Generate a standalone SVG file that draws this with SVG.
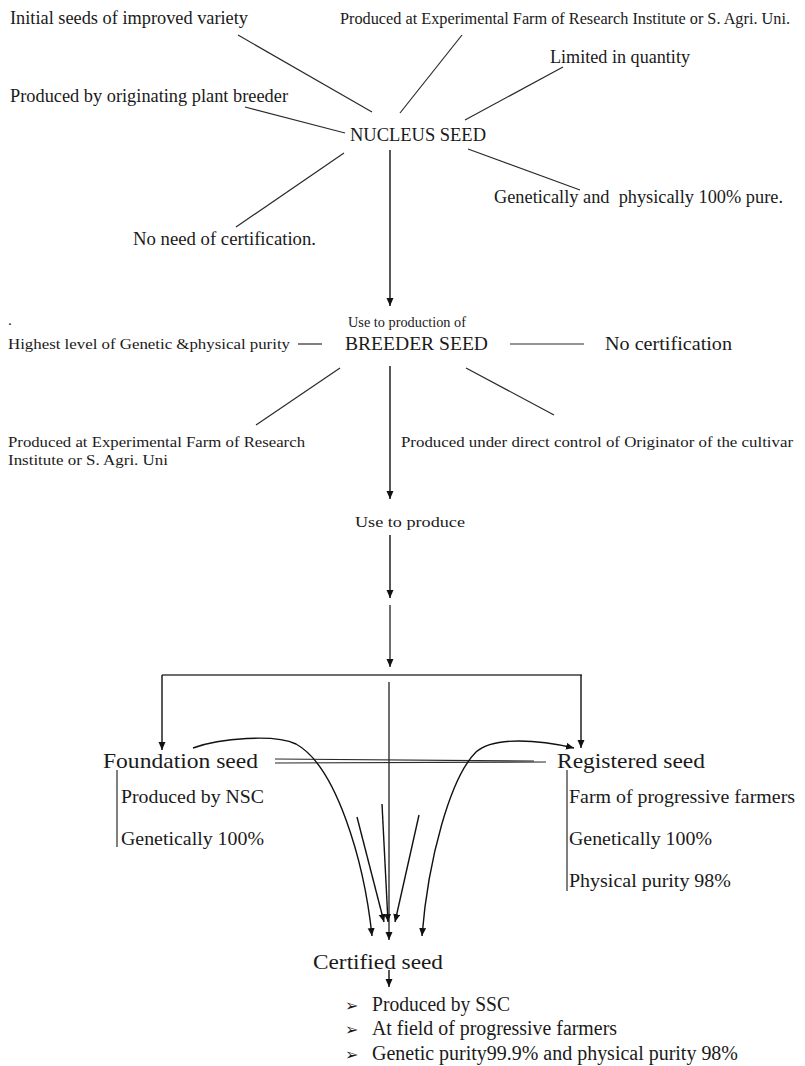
<svg xmlns="http://www.w3.org/2000/svg" width="805" height="1066" viewBox="0 0 805 1066">
<style>
text{font-family:"Liberation Serif","Times New Roman",serif;fill:#1a1a1a}
.s{font-size:18px}
.t{font-size:16.5px}
.xs{font-size:15.5px}
.u{font-size:14px}
.m{font-size:19.5px}
.b{font-size:20px}
.l{font-size:22px}
.bl{font-family:"DejaVu Sans",sans-serif;font-size:16px}
.ln{stroke:#2a2a2a;stroke-width:1.2;fill:none}
.ar{stroke:#111;stroke-width:1.4;fill:none}
.gr{stroke:#6e6e6e;stroke-width:2;fill:none}
</style>
<defs>
<marker id="ah" markerWidth="9" markerHeight="8" refX="8" refY="3.5" orient="auto-start-reverse" markerUnits="userSpaceOnUse">
<path d="M0,0 L8,3.5 L0,7 z" fill="#111"/>
</marker>
</defs>

<g id="connectors">
<line class="ln" x1="238" y1="35" x2="372" y2="112"/>
<line class="ln" x1="245" y1="107" x2="345" y2="133"/>
<line class="ln" x1="462" y1="35" x2="400" y2="113"/>
<line class="ln" x1="563" y1="67" x2="465" y2="120"/>
<line class="ln" x1="468" y1="149" x2="580" y2="190"/>
<line class="ln" x1="344" y1="153" x2="236" y2="227"/>
<line class="ar" x1="390" y1="150" x2="390" y2="306" marker-end="url(#ah)"/>
<line class="ln" x1="298" y1="344" x2="322" y2="344"/>
<line class="ln" x1="510" y1="344" x2="584" y2="344"/>
<line class="ln" x1="340" y1="368" x2="256" y2="425"/>
<line class="ln" x1="466" y1="368" x2="554" y2="415"/>
<line class="ar" x1="390" y1="366" x2="390" y2="499" marker-end="url(#ah)"/>
<line class="ar" x1="390" y1="535" x2="390" y2="598" marker-end="url(#ah)"/>
<line class="gr" x1="390" y1="605" x2="390" y2="667" marker-end="url(#ah)"/>
<line class="gr" x1="162" y1="675" x2="582" y2="675"/>
<line class="ar" x1="162" y1="675" x2="162" y2="750" marker-end="url(#ah)"/>
<line class="ar" x1="581" y1="675" x2="581" y2="748" marker-end="url(#ah)"/>
<line class="gr" x1="389" y1="682" x2="389" y2="940" marker-end="url(#ah)"/>
<line class="ln" x1="275" y1="759" x2="534" y2="761"/>
<line class="ln" x1="275" y1="763" x2="546" y2="762"/>
<path class="ar" d="M193,748 C220,738 275,734 296,744 C336,766 364,860 372,936" marker-end="url(#ah)"/>
<path class="ar" d="M422,936 C428,860 450,778 476,752 C494,736 540,740 574,748" marker-start="url(#ah)" marker-end="url(#ah)"/>
<line class="ar" x1="357" y1="817" x2="384" y2="922" marker-end="url(#ah)"/>
<line class="ar" x1="382" y1="804" x2="388" y2="922" marker-end="url(#ah)"/>
<line class="ar" x1="419" y1="815" x2="395" y2="922" marker-end="url(#ah)"/>
<line class="ln" x1="117" y1="770" x2="117" y2="847"/>
<line class="ln" x1="567" y1="770" x2="567" y2="891"/>
<line class="ar" x1="389" y1="970" x2="389" y2="987" marker-end="url(#ah)"/>
</g>

<g id="nucleus">
<text class="s" x="10" y="24" textLength="238" lengthAdjust="spacingAndGlyphs">Initial seeds of improved variety</text>
<text class="t" x="340" y="24" textLength="450" lengthAdjust="spacingAndGlyphs">Produced at Experimental Farm of Research Institute or S. Agri. Uni.</text>
<text class="s" x="550" y="63" textLength="140" lengthAdjust="spacingAndGlyphs">Limited in quantity</text>
<text class="s" x="10" y="102" textLength="278" lengthAdjust="spacingAndGlyphs">Produced by originating plant breeder</text>
<text class="s" x="350" y="141" textLength="136" lengthAdjust="spacingAndGlyphs">NUCLEUS SEED</text>
<text class="s" x="494" y="203" textLength="289" lengthAdjust="spacingAndGlyphs" xml:space="preserve">Genetically and  physically 100% pure.</text>
<text class="s" x="133" y="245" textLength="183" lengthAdjust="spacingAndGlyphs">No need of certification.</text>
</g>

<g id="breeder">
<text class="xs" x="8" y="325">.</text>
<text class="u" x="348" y="327" textLength="118" lengthAdjust="spacingAndGlyphs">Use to production of</text>
<text class="xs" x="8" y="349" textLength="282" lengthAdjust="spacingAndGlyphs">Highest level of Genetic &amp;physical purity</text>
<text class="m" x="345" y="350" textLength="143" lengthAdjust="spacingAndGlyphs">BREEDER SEED</text>
<text class="m" x="605" y="350" textLength="127" lengthAdjust="spacingAndGlyphs">No certification</text>
<text class="xs" x="8" y="447" textLength="297" lengthAdjust="spacingAndGlyphs">Produced at Experimental Farm of Research</text>
<text class="xs" x="8" y="465" textLength="160" lengthAdjust="spacingAndGlyphs">Institute or S. Agri. Uni</text>
<text class="xs" x="401" y="447" textLength="392" lengthAdjust="spacingAndGlyphs">Produced under direct control of Originator of the cultivar</text>
<text class="xs" x="355" y="527" textLength="110" lengthAdjust="spacingAndGlyphs">Use to produce</text>
</g>

<g id="foundation">
<text class="l" x="103" y="768" textLength="155" lengthAdjust="spacingAndGlyphs">Foundation seed</text>
<text class="s" x="121" y="803" textLength="143" lengthAdjust="spacingAndGlyphs">Produced by NSC</text>
<text class="s" x="121" y="845" textLength="143" lengthAdjust="spacingAndGlyphs">Genetically 100%</text>
</g>

<g id="registered">
<text class="l" x="557" y="768" textLength="148" lengthAdjust="spacingAndGlyphs">Registered seed</text>
<text class="s" x="569" y="803" textLength="226" lengthAdjust="spacingAndGlyphs">Farm of progressive farmers</text>
<text class="s" x="569" y="845" textLength="143" lengthAdjust="spacingAndGlyphs">Genetically 100%</text>
<text class="s" x="569" y="887" textLength="162" lengthAdjust="spacingAndGlyphs">Physical purity 98%</text>
</g>

<g id="certified">
<text class="l" x="313" y="969" textLength="130" lengthAdjust="spacingAndGlyphs">Certified seed</text>
<text class="bl" x="345" y="1011">➢</text>
<text class="b" x="372" y="1011" textLength="138" lengthAdjust="spacingAndGlyphs">Produced by SSC</text>
<text class="bl" x="345" y="1035">➢</text>
<text class="b" x="372" y="1035" textLength="245" lengthAdjust="spacingAndGlyphs">At field of progressive farmers</text>
<text class="bl" x="345" y="1060">➢</text>
<text class="b" x="372" y="1060" textLength="366" lengthAdjust="spacingAndGlyphs">Genetic purity99.9% and physical purity 98%</text>
</g>
</svg>
